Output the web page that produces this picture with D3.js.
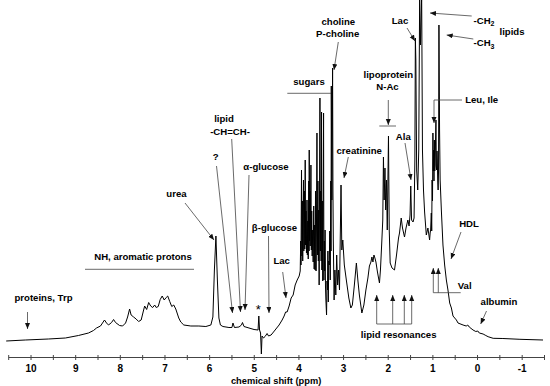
<!DOCTYPE html>
<html><head><meta charset="utf-8">
<script src="https://cdn.jsdelivr.net/npm/d3@7"></script>
<style>
html,body{margin:0;padding:0;background:#fff;}
svg{display:block;}
text{font-family:"Liberation Sans",Arial,sans-serif;font-weight:bold;fill:#000;}
</style></head>
<body>
<svg id="chart" width="550" height="386"></svg>
<script>
// ---- data: 1H NMR spectrum (chemical shift in ppm, intensity in a.u.) ----
const shiftPpm = [10.545,10.118,9.601,9.219,8.927,8.702,8.590,8.522,8.433,8.388,8.343,8.298,8.253,8.185,8.140,8.096,8.006,7.938,7.871,7.826,7.781,7.747,7.691,7.635,7.579,7.522,7.478,7.444,7.399,7.354,7.309,7.264,7.219,7.185,7.140,7.096,7.051,7.006,6.961,6.927,6.882,6.837,6.792,6.747,6.680,6.635,6.567,6.410,6.230,6.073,5.961,5.916,5.882,5.848,5.815,5.781,5.747,5.691,5.556,5.489,5.466,5.433,5.331,5.275,5.253,5.219,5.107,4.994,4.904,4.887,4.871,4.848,4.830,4.815,4.781,4.747,4.702,4.669,4.612,4.522,4.433,4.365,4.320,4.287,4.253,4.208,4.163,4.118,4.073,4.028,3.983,
  3.960,3.949,3.943,3.931,3.922,3.912,3.904,3.887,3.879,3.866,3.858,3.848,3.839,3.830,3.820,3.808,3.800,3.790,3.780,3.768,3.762,3.758,3.750,3.743,3.736,3.720,3.711,3.702,3.692,3.680,3.670,3.657,3.647,3.635,3.626,3.617,3.605,3.595,3.585,3.575,3.563,3.554,3.545,3.536,3.518,3.509,3.500,3.491,3.482,3.474,3.466,3.455,3.446,3.437,3.429,3.421,3.411,3.403,3.394,3.385,3.370,3.360,3.349,3.340,3.331,3.320,3.309,3.298,3.287,3.275,3.270,3.264,3.251,3.243,3.235,3.227,3.219,
  3.201,3.183,3.163,3.143,3.122,3.102,3.080,3.046,3.028,3.006,2.972,2.927,2.871,2.826,2.792,2.747,2.702,2.669,2.635,2.579,2.534,2.489,2.444,2.410,2.376,2.354,2.331,2.309,2.287,2.264,2.230,2.185,2.163,2.136,2.111,2.096,2.080,2.062,2.046,2.028,2.010,1.983,1.966,1.945,1.904,1.848,1.803,1.758,1.736,1.698,1.669,1.624,1.590,1.549,1.522,1.500,1.484,1.466,1.433,1.410,1.392,1.381,1.370,1.352,1.328,1.305,1.285,1.267,1.240,1.222,1.199,1.174,1.136,1.100,
  1.062,1.050,1.039,1.024,1.015,1.006,0.997,0.988,0.980,0.972,0.964,0.956,0.947,0.938,0.929,0.920,0.912,0.904,0.896,0.889,0.880,0.871,0.862,0.853,0.839,
  0.826,0.799,0.763,0.725,0.687,0.651,0.612,0.574,0.538,0.462,0.426,0.313,0.242,0.208,0.174,0.089,0.028,-0.017,-0.051,-0.136,-0.197,-0.248,-0.361,-0.579,-0.961,-1.478];
const intensity = [0,1,2,3,5.5,8,10.5,13,15,18,21,18,16,18.5,21.5,18.5,15.5,15,18,24,32,26,24,22,19.5,21,29,35,31.5,38.5,35,33.5,36,33.5,34.5,41.5,45,41,43.5,45,39.5,34.5,36,32,23,19,16,15,15,14.5,16,24,71,105,61,23,16,14.5,13.5,13.5,18,13.5,14,16,18.5,14.5,13,11.5,11,25,11,8,-13,5,3,4.5,7.5,5,6,11,16,21,25,29,29,35,43,46,56,61,65,
  70,100,76,171,85,140,80,161,90,150,92,181,96,130,88,141,86,120,82,160,90,191,100,150,95,176,91,130,85,111,79,135,72,116,71,150,70,120,208,86,160,80,131,56,243,90,150,80,229,71,140,60,120,228,61,100,70,111,55,41,26,60,51,90,39,80,76,110,61,160,90,255,141,200,273,150,101,
  41,71,46,86,56,71,51,156,91,101,76,61,43,33,36,56,78,61,46,28,36,51,63,75,79,84,79,86,83,79,69,58,71,96,121,184,141,173,131,161,111,205,111,78,73,71,86,103,108,123,113,104,113,121,115,126,155,121,119,123,181,303,281,171,151,191,345,296,345,191,151,129,106,113,
  101,108,111,128,110,161,140,208,170,191,160,201,170,176,200,221,175,171,190,181,160,151,170,316,211,
  161,131,96,76,61,51,38,33,25,21,18,16,15,16,14,11,9.5,10,8,7,5.5,4.3,2.7,2.5,1.7,1];
const xTickValues = [-1.5,-1,-0.5,0,0.5,1,1.5,2,2.5,3,3.5,4,4.5,5,5.5,6,6.5,7,7.5,8,8.5,9,9.5,10,10.5];
const xTickLabels = ["","-1","","0","","1","","2","","3","","4","","5","","6","","7","","8","","9","","10",""];
const axisTitle = "chemical shift (ppm)";

// ---- annotation layout (label text + placement) ----
const labels = [
  {t:"proteins, Trp", x:43.5, y:300.5},
  {t:"NH, aromatic protons", x:143, y:260},
  {t:"urea", x:176.5, y:197},
  {t:"?", x:215.7, y:160},
  {t:"lipid", x:224, y:121.5},
  {t:"-CH=CH-", x:230, y:135},
  {t:"\u03b1-glucose", x:266, y:169.5},
  {t:"\u03b2-glucose", x:274.5, y:231},
  {t:"Lac", x:281.7, y:263.5},
  {t:"sugars", x:309, y:85},
  {t:"choline", x:338.3, y:25},
  {t:"P-choline", x:337.7, y:37},
  {t:"creatinine", x:359.2, y:153.5},
  {t:"lipoprotein", x:388.3, y:77.5},
  {t:"N-Ac", x:387.5, y:89.5},
  {t:"Ala", x:403.3, y:139.5},
  {t:"Lac", x:400, y:23.5},
  {t:"-CH", sub:"2", x:484, y:23.5},
  {t:"lipids", x:512, y:34.5},
  {t:"-CH", sub:"3", x:484, y:46},
  {t:"Leu, Ile", x:481.7, y:103},
  {t:"HDL", x:469, y:227},
  {t:"Val", x:464.7, y:289},
  {t:"lipid resonances", x:398.7, y:338},
  {t:"albumin", x:499, y:305}
];
const arrows = [
  [27.5,312,27.5,329],
  [185,203,214,240],
  [216.5,166,232.5,313],
  [231.7,139,240.5,312],
  [249,175,245,310],
  [268.5,236,269,313],
  [282.7,272,286,298],
  [338.3,42,334,70],
  [348.3,157,344,178],
  [388.3,100,388.3,125],
  [405,143,411,180],
  [407,28,415,41],
  [471.7,16,430,13],
  [473.3,39,446.7,35],
  [434,100,434,123],
  [461,232,451,259],
  [433.3,292.7,433.3,268],
  [438.3,292.7,438.3,268],
  [376.7,324,376.7,295],
  [392.7,324,392.7,295],
  [404.3,324,404.3,295],
  [411.7,324,411.7,295],
  [486.5,311,480.7,324]
];
const plainLines = [
  [85,269.3,194,269.3],
  [287.3,93.3,331,93.3],
  [379.3,126,396,126],
  [462,100,434,100],
  [433.3,292.7,460.7,292.7],
  [376.7,324,411.7,324]
];

const svg = d3.select("#chart");
svg.append("rect").attr("width",550).attr("height",386).attr("fill","#fff");

const x = d3.scaleLinear().domain([10.5,-1.5]).range([8.2,544]);
const y = d3.scaleLinear().domain([0,340]).range([341,1]);

// arrow marker
svg.append("defs").append("marker")
  .attr("id","ah").attr("markerUnits","userSpaceOnUse")
  .attr("markerWidth",7).attr("markerHeight",6)
  .attr("refX",6).attr("refY",2.5).attr("orient","auto")
  .append("path").attr("d","M0,0 L6,2.5 L0,5 Z").attr("fill","#111");

// spectrum trace
const pts = shiftPpm.map((p,i)=>[p,intensity[i]]);
svg.append("path")
  .datum(pts)
  .attr("fill","none").attr("stroke","#000").attr("stroke-width",1)
  .attr("stroke-linejoin","miter")
  .attr("d", d3.line().x(d=>x(d[0])).y(d=>y(d[1])));

// axis
const ax = svg.append("g").attr("transform","translate(0,357)")
  .call(d3.axisBottom(x).tickValues(xTickValues)
    .tickFormat((d,i)=>xTickLabels[i]).tickSizeOuter(0).tickSizeInner(3));
ax.select(".domain").attr("stroke","#444");
ax.selectAll(".tick line").attr("stroke","#444").attr("y1",-2).attr("y2",3);
ax.selectAll(".tick text").attr("y",14.5).attr("dy",0)
  .style("font-size","10px").style("font-weight","bold")
  .style("font-family","'Liberation Sans',Arial,sans-serif");

svg.append("text").attr("x",(x.range()[0]+x.range()[1])/2).attr("y",384)
  .attr("text-anchor","middle").style("font-size","9.3px").text(axisTitle);

// annotation lines
svg.selectAll("line.pl").data(plainLines).enter().append("line")
  .attr("x1",d=>d[0]).attr("y1",d=>d[1]).attr("x2",d=>d[2]).attr("y2",d=>d[3])
  .attr("stroke","#444").attr("stroke-width",0.8);
svg.selectAll("line.ar").data(arrows).enter().append("line")
  .attr("x1",d=>d[0]).attr("y1",d=>d[1]).attr("x2",d=>d[2]).attr("y2",d=>d[3])
  .attr("stroke","#444").attr("stroke-width",0.8).attr("marker-end","url(#ah)");

// labels
labels.forEach(l=>{
  const t = svg.append("text").attr("x",l.x).attr("y",l.y)
    .attr("text-anchor","middle").style("font-size","9.6px").text(l.t);
  if(l.sub){
    t.append("tspan").attr("dy",2.5).style("font-size","7px").text(l.sub);
  }
});
svg.append("text").attr("x",258.3).attr("y",314).attr("text-anchor","middle")
  .style("font-size","13px").style("font-weight","normal").text("*");
</script>
</body></html>
